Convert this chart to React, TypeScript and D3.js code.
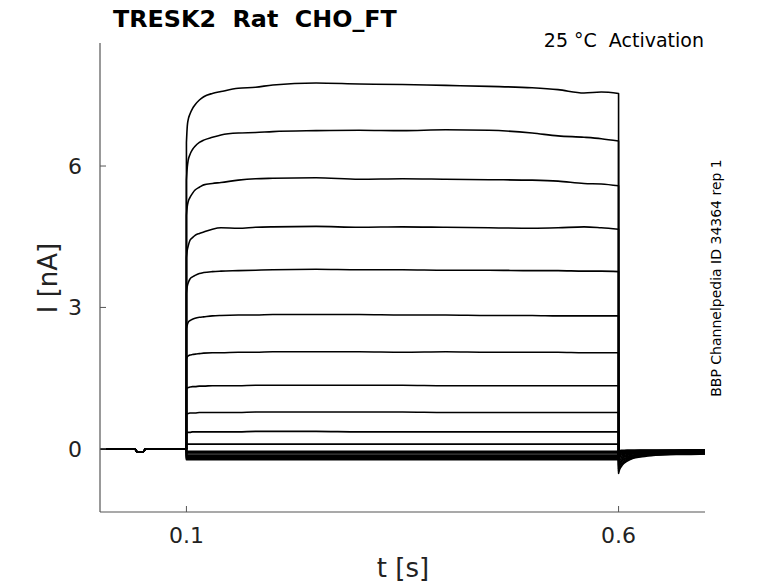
import * as d3 from 'd3';

// Figure frame (matplotlib-like layout of the Channelpedia trace plots).
const WIDTH = 778;
const HEIGHT = 583;
const PLOT = { left: 100, right: 705, top: 43, bottom: 512 };

const X_DOMAIN: [number, number] = [0, 0.7];
const Y_DOMAIN: [number, number] = [-1.34, 8.61];
const X_TICKS = [0.1, 0.6];
const Y_TICKS = [0, 3, 6];

// Holding period before the step (shared by all sweeps, incl. the small test pulse).
const PRE_T = [0, 0.0405, 0.043, 0.05, 0.0525, 0.1];
const PRE_I = [0, 0, -0.07, -0.07, 0, 0];

// Step period sample times (s) and per-sweep currents (nA).
const STEP_T = [
  0.1, 0.101, 0.102, 0.104, 0.107, 0.11, 0.115, 0.12, 0.13, 0.14, 0.16, 0.18,
  0.2, 0.25, 0.3, 0.35, 0.4, 0.45, 0.5, 0.53, 0.56, 0.58, 0.6,
];
const STEP_I = [
  [6.5, 6.85, 6.98, 7.1, 7.22, 7.3, 7.4, 7.47, 7.54, 7.58, 7.65, 7.67, 7.72, 7.76, 7.74, 7.73, 7.71, 7.69, 7.66, 7.62, 7.55, 7.57, 7.54],
  [5.7, 5.98, 6.12, 6.24, 6.35, 6.42, 6.5, 6.55, 6.61, 6.66, 6.7, 6.71, 6.73, 6.75, 6.76, 6.75, 6.77, 6.76, 6.7, 6.64, 6.61, 6.58, 6.53],
  [4.95, 5.15, 5.24, 5.33, 5.42, 5.49, 5.55, 5.6, 5.63, 5.65, 5.7, 5.73, 5.74, 5.75, 5.72, 5.73, 5.72, 5.71, 5.7, 5.68, 5.63, 5.62, 5.58],
  [4.05, 4.22, 4.3, 4.42, 4.48, 4.53, 4.57, 4.6, 4.66, 4.69, 4.68, 4.7, 4.71, 4.72, 4.7, 4.71, 4.7, 4.69, 4.68, 4.69, 4.71, 4.69, 4.66],
  [3.3, 3.45, 3.52, 3.6, 3.65, 3.68, 3.72, 3.74, 3.76, 3.77, 3.78, 3.79, 3.8, 3.81, 3.8, 3.8, 3.79, 3.79, 3.78, 3.78, 3.77, 3.77, 3.76],
  [2.55, 2.63, 2.68, 2.72, 2.75, 2.77, 2.79, 2.8, 2.82, 2.83, 2.84, 2.84, 2.85, 2.85, 2.85, 2.84, 2.84, 2.83, 2.83, 2.82, 2.82, 2.82, 2.82],
  [1.9, 1.95, 1.97, 1.99, 2.0, 2.01, 2.02, 2.03, 2.04, 2.04, 2.05, 2.05, 2.06, 2.06, 2.06, 2.05, 2.06, 2.05, 2.05, 2.05, 2.04, 2.04, 2.04],
  [1.26, 1.29, 1.3, 1.31, 1.32, 1.32, 1.33, 1.33, 1.34, 1.34, 1.34, 1.35, 1.35, 1.35, 1.35, 1.35, 1.34, 1.34, 1.34, 1.34, 1.34, 1.34, 1.34],
  [0.73, 0.75, 0.75, 0.76, 0.76, 0.76, 0.77, 0.77, 0.77, 0.77, 0.77, 0.78, 0.78, 0.78, 0.78, 0.78, 0.77, 0.77, 0.77, 0.77, 0.77, 0.77, 0.77],
  [0.34, 0.35, 0.35, 0.35, 0.36, 0.36, 0.36, 0.36, 0.36, 0.36, 0.36, 0.37, 0.37, 0.37, 0.36, 0.36, 0.36, 0.36, 0.36, 0.36, 0.36, 0.36, 0.36],
  [0.09, 0.1, 0.1, 0.1, 0.1, 0.1, 0.1, 0.1, 0.1, 0.1, 0.1, 0.1, 0.1, 0.1, 0.1, 0.1, 0.1, 0.1, 0.1, 0.1, 0.1, 0.1, 0.1],
  [-0.05, -0.05, -0.05, -0.05, -0.05, -0.05, -0.05, -0.05, -0.05, -0.05, -0.05, -0.05, -0.05, -0.05, -0.05, -0.05, -0.05, -0.05, -0.05, -0.05, -0.05, -0.05, -0.05],
  [-0.08, -0.08, -0.08, -0.08, -0.08, -0.08, -0.08, -0.08, -0.08, -0.08, -0.08, -0.08, -0.08, -0.08, -0.08, -0.08, -0.08, -0.08, -0.08, -0.08, -0.08, -0.08, -0.08],
  [-0.11, -0.11, -0.11, -0.11, -0.11, -0.11, -0.11, -0.11, -0.11, -0.11, -0.11, -0.11, -0.11, -0.11, -0.11, -0.11, -0.11, -0.11, -0.11, -0.11, -0.11, -0.11, -0.11],
  [-0.14, -0.14, -0.14, -0.14, -0.14, -0.14, -0.14, -0.14, -0.14, -0.14, -0.14, -0.14, -0.14, -0.14, -0.14, -0.14, -0.14, -0.14, -0.14, -0.14, -0.14, -0.14, -0.14],
  [-0.17, -0.17, -0.17, -0.17, -0.17, -0.17, -0.17, -0.17, -0.17, -0.17, -0.17, -0.17, -0.17, -0.17, -0.17, -0.17, -0.17, -0.17, -0.17, -0.17, -0.17, -0.17, -0.17],
  [-0.19, -0.19, -0.19, -0.19, -0.19, -0.19, -0.19, -0.19, -0.19, -0.19, -0.19, -0.19, -0.19, -0.19, -0.19, -0.19, -0.19, -0.19, -0.19, -0.19, -0.19, -0.19, -0.19],
  [-0.21, -0.21, -0.21, -0.21, -0.21, -0.21, -0.21, -0.21, -0.21, -0.21, -0.21, -0.21, -0.21, -0.21, -0.21, -0.21, -0.21, -0.21, -0.21, -0.21, -0.21, -0.21, -0.21],
  [-0.23, -0.23, -0.23, -0.23, -0.23, -0.23, -0.23, -0.23, -0.23, -0.23, -0.23, -0.23, -0.23, -0.23, -0.23, -0.23, -0.23, -0.23, -0.23, -0.23, -0.23, -0.23, -0.23],
];

// Tail currents after repolarisation at 0.6 s.
const TAIL_T = [0.6, 0.601, 0.603, 0.606, 0.61, 0.617, 0.625, 0.64, 0.66, 0.68, 0.7];
const TAIL_I = [
  [-0.52, -0.45, -0.38, -0.31, -0.26, -0.2, -0.17, -0.14, -0.12, -0.12, -0.11],
  [-0.47, -0.41, -0.35, -0.29, -0.24, -0.19, -0.16, -0.13, -0.12, -0.11, -0.11],
  [-0.42, -0.37, -0.31, -0.26, -0.22, -0.17, -0.15, -0.12, -0.11, -0.1, -0.1],
  [-0.37, -0.33, -0.28, -0.23, -0.2, -0.16, -0.13, -0.11, -0.1, -0.1, -0.09],
  [-0.33, -0.29, -0.25, -0.21, -0.18, -0.14, -0.12, -0.1, -0.09, -0.09, -0.08],
  [-0.28, -0.25, -0.22, -0.18, -0.16, -0.13, -0.11, -0.09, -0.09, -0.08, -0.08],
  [-0.24, -0.21, -0.19, -0.16, -0.14, -0.11, -0.1, -0.09, -0.08, -0.08, -0.07],
  [-0.2, -0.18, -0.16, -0.14, -0.12, -0.1, -0.09, -0.08, -0.07, -0.07, -0.07],
  [-0.16, -0.15, -0.13, -0.12, -0.1, -0.09, -0.08, -0.07, -0.07, -0.06, -0.06],
  [-0.13, -0.12, -0.11, -0.1, -0.09, -0.08, -0.07, -0.07, -0.06, -0.06, -0.06],
  [-0.1, -0.09, -0.09, -0.08, -0.08, -0.07, -0.06, -0.06, -0.06, -0.05, -0.05],
  [-0.08, -0.08, -0.07, -0.07, -0.06, -0.06, -0.06, -0.05, -0.05, -0.05, -0.05],
  [-0.07, -0.07, -0.06, -0.06, -0.06, -0.05, -0.05, -0.05, -0.05, -0.04, -0.04],
  [-0.06, -0.06, -0.06, -0.05, -0.05, -0.05, -0.05, -0.04, -0.04, -0.04, -0.04],
  [-0.06, -0.05, -0.05, -0.05, -0.05, -0.04, -0.04, -0.04, -0.04, -0.04, -0.04],
  [-0.05, -0.05, -0.05, -0.04, -0.04, -0.04, -0.04, -0.04, -0.03, -0.03, -0.03],
  [-0.05, -0.04, -0.04, -0.04, -0.04, -0.04, -0.03, -0.03, -0.03, -0.03, -0.03],
  [-0.04, -0.04, -0.04, -0.04, -0.03, -0.03, -0.03, -0.03, -0.03, -0.03, -0.03],
  [-0.04, -0.04, -0.03, -0.03, -0.03, -0.03, -0.03, -0.03, -0.03, -0.02, -0.02],
];

const TITLE = 'TRESK2  Rat  CHO_FT';
const CONDITION = '25 °C  Activation';
const SIDE_LABEL = 'BBP Channelpedia ID 34364 rep 1';

const FONT = '"DejaVu Sans", Verdana, sans-serif';

export default function App() {
  const x = d3.scaleLinear().domain(X_DOMAIN).range([PLOT.left, PLOT.right]);
  const y = d3.scaleLinear().domain(Y_DOMAIN).range([PLOT.bottom, PLOT.top]);

  const straight = d3
    .line<[number, number]>()
    .x(d => x(d[0]))
    .y(d => y(d[1]));
  const smooth = d3
    .line<[number, number]>()
    .x(d => x(d[0]))
    .y(d => y(d[1]))
    .curve(d3.curveMonotoneX);

  const prePts = PRE_T.map((t, i) => [t, PRE_I[i]] as [number, number]);

  // One path per sweep: holding -> step (vertical jump) -> tail.
  const sweepPaths = STEP_I.map((stepVals, k) => {
    const stepPts = STEP_T.map((t, i) => [t, stepVals[i]] as [number, number]);
    const tailPts = TAIL_T.map((t, i) => [t, TAIL_I[k][i]] as [number, number]);
    const a = straight(prePts) ?? '';
    const b = (smooth(stepPts) ?? '').replace(/^M/, 'L');
    const c = (smooth(tailPts) ?? '').replace(/^M/, 'L');
    return a + b + c;
  });

  const axisColor = '#555';
  const textColor = '#222';

  return (
    <div style={{ position: 'absolute', left: 0, top: 0 }}>
      <svg width={WIDTH} height={HEIGHT} style={{ display: 'block', background: 'white' }}>
        {/* Sweeps */}
        <g fill="none" stroke="black" strokeWidth={1.6} strokeLinejoin="round">
          {sweepPaths.map((d, i) => (
            <path key={`sweep-${i}`} d={d} />
          ))}
        </g>

        {/* Spines (left + bottom only) */}
        <line x1={PLOT.left} x2={PLOT.left} y1={PLOT.top} y2={PLOT.bottom} stroke={axisColor} strokeWidth={1.2} />
        <line x1={PLOT.left} x2={PLOT.right} y1={PLOT.bottom} y2={PLOT.bottom} stroke={axisColor} strokeWidth={1.2} />

        {/* Y ticks (inward) and labels */}
        {Y_TICKS.map(v => (
          <g key={`yt-${v}`}>
            <line x1={PLOT.left} x2={PLOT.left + 6} y1={y(v)} y2={y(v)} stroke={axisColor} strokeWidth={1} />
            <text
              x={82}
              y={y(v)}
              dy="0.36em"
              textAnchor="end"
              fontFamily={FONT}
              fontSize={22}
              fill={textColor}
            >
              {v}
            </text>
          </g>
        ))}

        {/* X ticks (inward) and labels */}
        {X_TICKS.map(v => (
          <g key={`xt-${v}`}>
            <line x1={x(v)} x2={x(v)} y1={PLOT.bottom} y2={PLOT.bottom - 6} stroke={axisColor} strokeWidth={1} />
            <text
              x={x(v)}
              y={543}
              textAnchor="middle"
              fontFamily={FONT}
              fontSize={22}
              fill={textColor}
            >
              {v}
            </text>
          </g>
        ))}

        {/* Axis labels */}
        <text x={403} y={577} textAnchor="middle" fontFamily={FONT} fontSize={26} fill={textColor}>
          t [s]
        </text>
        <text
          transform={`translate(57, 278) rotate(-90)`}
          textAnchor="middle"
          fontFamily={FONT}
          fontSize={26}
          fill={textColor}
        >
          I [nA]
        </text>

        {/* Title and condition */}
        <text
          x={113}
          y={27}
          fontFamily={FONT}
          fontSize={23.8}
          fontWeight="bold"
          fill="black"
          style={{ whiteSpace: 'pre' }}
        >
          {TITLE}
        </text>
        <text
          x={704}
          y={47}
          textAnchor="end"
          fontFamily={FONT}
          fontSize={19}
          fill="black"
          style={{ whiteSpace: 'pre' }}
        >
          {CONDITION}
        </text>

        {/* Side label */}
        <text
          transform={`translate(721, 278) rotate(-90)`}
          textAnchor="middle"
          fontFamily={FONT}
          fontSize={14}
          fill="black"
        >
          {SIDE_LABEL}
        </text>
      </svg>
    </div>
  );
}
